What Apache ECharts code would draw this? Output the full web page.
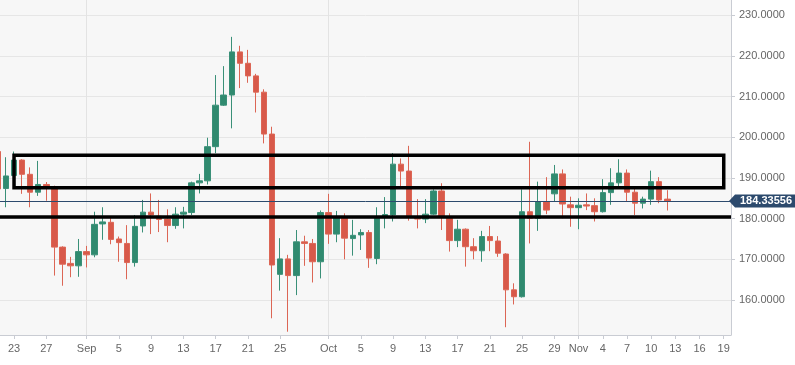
<!DOCTYPE html>
<html><head><meta charset="utf-8">
<script src="https://cdn.jsdelivr.net/npm/echarts@6/dist/echarts.min.js"></script>
<style>html,body{margin:0;padding:0;background:#fff}#c{width:795px;height:365px}</style>
</head><body><div id="c"></div>
<script>
const year = 2019;
const dates = ['08-21','08-22','08-23','08-24','08-25','08-26','08-27','08-28','08-29','08-30','08-31',
'09-01','09-02','09-03','09-04','09-05','09-06','09-07','09-08','09-09','09-10','09-11','09-12','09-13','09-14','09-15','09-16','09-17','09-18','09-19','09-20','09-21','09-22','09-23','09-24','09-25','09-26','09-27','09-28','09-29','09-30',
'10-01','10-02','10-03','10-04','10-05','10-06','10-07','10-08','10-09','10-10','10-11','10-12','10-13','10-14','10-15','10-16','10-17','10-18','10-19','10-20','10-21','10-22','10-23','10-24','10-25','10-26','10-27','10-28','10-29','10-30','10-31',
'11-01','11-02','11-03','11-04','11-05','11-06','11-07','11-08','11-09','11-10','11-11','11-12'];
const open = [196.5,187.4,190.6,194.4,190.9,186.5,188.4,187.9,173.0,169.0,168.4,
171.9,171.1,178.7,179.1,175.0,173.9,169.2,178.2,181.6,180.6,179.9,178.3,181.1,181.5,188.8,189.3,197.7,207.9,210.4,221.0,218.2,215.1,211.1,200.8,166.3,170.1,166.0,174.3,173.9,169.4,
181.5,176.2,180.2,175.1,176.0,176.6,170.2,180.4,180.9,193.4,191.7,180.3,179.9,181.1,186.8,180.2,174.6,177.4,173.1,172.1,175.6,174.5,171.3,162.5,160.8,181.7,180.1,184.2,186.1,191.0,183.4,
182.7,183.4,183.2,181.7,186.4,188.8,191.2,186.5,183.8,184.8,189.1,184.8];
const close = [187.3,190.5,194.4,190.9,186.5,188.4,187.9,173.0,168.8,168.4,171.9,
171.1,178.6,179.2,174.9,174.1,169.2,178.1,181.6,180.9,179.8,178.3,181.1,181.6,188.8,189.3,197.7,207.9,210.4,221.0,218.2,215.1,211.1,200.8,168.6,170.1,166.0,174.3,173.9,169.4,181.5,
176.2,180.2,175.2,175.9,176.6,170.3,180.2,181.0,193.4,191.7,180.7,179.9,181.1,186.8,180.5,174.6,177.4,173.1,172.1,175.6,174.6,171.5,162.5,160.8,181.7,180.1,184.2,182.1,191.0,183.6,182.7,
183.3,183.1,181.7,186.4,188.8,191.2,186.5,183.8,184.8,189.1,184.6,184.33556];
const low = [186.0,182.8,190.0,186.1,182.8,185.6,184.4,166.0,163.5,165.6,165.7,
168.0,170.5,174.8,173.7,169.4,165.1,168.2,176.6,176.2,176.7,174.2,177.5,177.6,180.9,186.2,188.4,196.1,207.7,202.2,212.1,213.4,206.1,198.5,155.5,162.3,152.2,161.2,168.4,164.3,165.3,
173.8,174.2,170.0,170.9,172.3,167.9,168.8,177.6,179.3,187.9,179.5,177.6,178.9,180.9,177.2,171.9,173.0,168.2,170.0,169.4,172.0,170.6,153.3,158.9,160.6,173.9,177.0,181.1,184.2,180.1,178.0,
177.4,182.1,179.3,181.5,183.4,188.0,184.2,180.9,182.5,183.4,183.8,182.0];
const high = [197.5,195.1,196.5,194.6,192.6,194.2,189.0,188.1,173.2,170.6,175.0,
173.3,181.7,182.8,180.3,175.6,178.4,180.9,184.6,186.2,184.6,182.3,182.8,182.9,189.1,191.0,199.9,215.3,217.5,224.7,222.5,221.5,215.6,211.8,202.6,175.2,171.1,177.2,175.8,175.0,182.0,
186.1,181.9,181.3,179.7,177.4,177.2,182.8,185.3,196.1,194.8,197.9,184.8,184.8,187.2,188.7,181.3,179.7,177.6,175.2,177.0,178.2,175.7,171.5,164.1,187.2,198.9,189.1,190.2,193.2,192.1,185.4,
185.0,186.2,185.0,189.7,192.4,194.6,192.1,187.9,185.4,191.8,190.2,187.0];
const tickDates = ['08-23','08-27','09-01','09-05','09-09','09-13','09-17','09-21','09-25','10-01','10-05','10-09','10-13','10-17','10-21','10-25','10-29','11-01','11-04','11-07','11-10','11-13','11-16','11-19'];
const tickLabels = ['23','27','Sep','5','9','13','17','21','25','Oct','5','9','13','17','21','25','29','Nov','4','7','10','13','16','19'];
const monthStarts = ['09-01','10-01','11-01'];
const priceTicks = [160,170,180,190,200,210,220,230];
const lastPrice = 184.33556;
const zoneTop = 195.6, zoneBottom = 187.6, zoneStart = '08-23', zoneEnd = '11-19';
const supportLevel = 180.5;

const base = Date.UTC(year, 7, 23);
function dayIndex(md){const [m,d]=md.split('-').map(Number);return (Date.UTC(year,m-1,d)-base)/86400000;}
const xMin = -1.74, xMax = 88.9;
const candleData = dates.map((d,i)=>[dayIndex(d), open[i], close[i], low[i], high[i]]);
const tickVals = tickDates.map(dayIndex);
const labelMap = {}; tickVals.forEach((v,i)=>labelMap[v]=tickLabels[i]);

const chart = echarts.init(document.getElementById('c'), null, {renderer:'canvas'});
const axisColor = '#c9ccd3';
const font = 'Arial, Liberation Sans, sans-serif';
chart.setOption({
  animation:false,
  backgroundColor:'#ffffff',
  grid:{left:0,right:64,top:0,bottom:30,show:true,backgroundColor:'#f7f7f7',borderWidth:0},
  xAxis:{
    type:'value',min:xMin,max:xMax,
    axisLine:{show:true,onZero:false,lineStyle:{color:axisColor,width:1}},
    axisTick:{show:true,length:4,lineStyle:{color:axisColor},customValues:tickVals},
    axisLabel:{customValues:tickVals,formatter:v=>labelMap[v]!==undefined?labelMap[v]:'',color:'#666',fontSize:11,fontFamily:font,margin:8},
    splitLine:{show:false}
  },
  yAxis:{
    type:'value',position:'right',min:151.39,max:233.76,
    axisLine:{show:true,onZero:false,lineStyle:{color:axisColor,width:1}},
    axisTick:{show:true,length:4,lineStyle:{color:axisColor},customValues:priceTicks},
    axisLabel:{customValues:priceTicks,formatter:v=>v.toFixed(4),color:'#666',fontSize:11,fontFamily:font,margin:8},
    splitLine:{show:true,lineStyle:{color:'#e6e6e6',width:1}}
  },
  series:[{
    type:'line',
    data:[],
    z:1,
    markLine:{
      silent:true,z:1,symbol:['none','none'],label:{show:false},
      lineStyle:{color:'#e3e3e3',width:1,type:'solid'},
      data:monthStarts.map(m=>({xAxis:dayIndex(m)}))
    }
  },{
    type:'candlestick',
    data:candleData,
    encode:{x:0,y:[1,2,3,4]},
    barWidth:6,
    z:3,
    itemStyle:{color:'#308a6f',color0:'#d8594a',borderColor:'#3a9078',borderColor0:'#dc6655',borderWidth:1},
    markArea:{
      silent:true,z:10,
      itemStyle:{color:'rgba(0,0,0,0)',borderColor:'#000',borderWidth:3.5},
      data:[[{xAxis:dayIndex(zoneStart),yAxis:zoneTop},{xAxis:dayIndex(zoneEnd),yAxis:zoneBottom}]]
    },
    markLine:{
      silent:true,symbol:['none','none'],label:{show:false},
      data:[
        {yAxis:supportLevel,lineStyle:{color:'#000',width:3.5,type:'solid'}},
        {yAxis:lastPrice,lineStyle:{color:'#2c4a6d',width:1,type:'solid'}}
      ]
    },
    markPoint:{
      silent:true,
      data:[{coord:[xMax,lastPrice],symbol:'path://M0,6.5L6,0L68,0L68,13L6,13Z',symbolSize:[68,13],symbolKeepAspect:false,symbolOffset:[32,0],
        itemStyle:{color:'#2c4a6d'},
        label:{show:true,position:'inside',offset:[3,0],formatter:lastPrice.toFixed(5),color:'#fff',fontWeight:'bold',fontSize:11,fontFamily:font}}]
    }
  }]
});
</script></body></html>
